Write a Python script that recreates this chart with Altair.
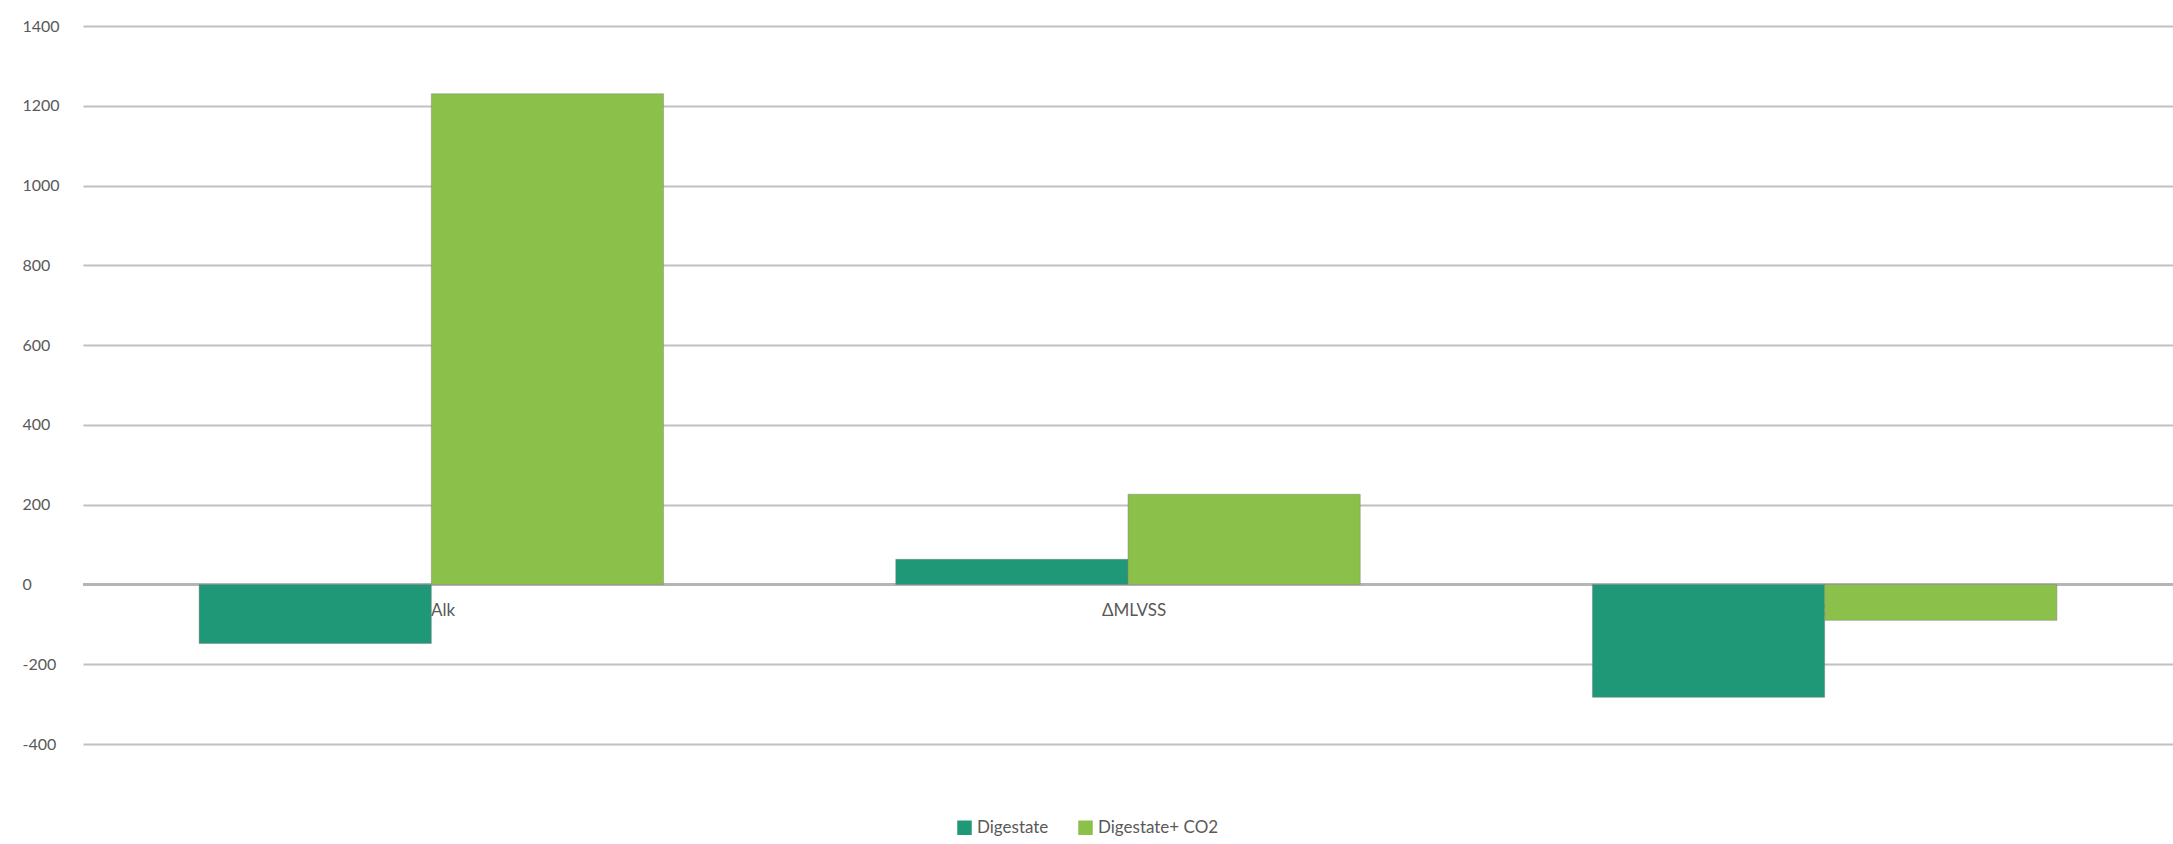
import altair as alt
import pandas as pd

categories = ["ΔAlk", "ΔMLVSS", "ΔsCOD"]
series_names = ["Digestate", "Digestate+ CO2"]
digestate = [-148, 63, -283]
digestate_co2 = [1230, 226, -90]
y_ticks = [-400, -200, 0, 200, 400, 600, 800, 1000, 1200, 1400]
colors = ["#1e9877", "#8bc04a"]

rows = []
for c, a, b in zip(categories, digestate, digestate_co2):
    rows.append({"cat": c, "series": series_names[0], "value": a})
    rows.append({"cat": c, "series": series_names[1], "value": b})
df = pd.DataFrame(rows)
cat_df = pd.DataFrame({"cat": categories})

FONT = "Lato"
TXT = "#595959"

xscale = alt.Scale(domain=categories, paddingInner=1/3, paddingOuter=1/6)

zero = alt.Chart(cat_df).mark_rule(color="#b5b5b5", strokeWidth=3).encode(
    y=alt.datum(0), x=alt.value(0), x2=alt.value(2090)
)

labels = alt.Chart(cat_df).mark_text(
    font=FONT, fontSize=17, color=TXT, dy=27, dx=6, baseline="middle"
).encode(
    x=alt.X("cat:N", scale=xscale, axis=None, sort=categories),
    y=alt.datum(0),
    text="cat:N",
)

bars = alt.Chart(df).mark_bar(stroke="#7f7f7f", strokeWidth=1, strokeOpacity=0.45).encode(
    x=alt.X("cat:N", scale=xscale, axis=None, sort=categories),
    xOffset=alt.XOffset("series:N", sort=series_names,
                        scale=alt.Scale(domain=series_names, paddingInner=0, paddingOuter=0)),
    y=alt.Y("value:Q",
            scale=alt.Scale(domain=[-400, 1400], nice=False, zero=False),
            axis=alt.Axis(values=y_ticks, title=None, domain=False, ticks=False, tickSize=0,
                          labelExpr="'' + datum.value",
                          labelAlign="left", labelPadding=61, labelFont=FONT,
                          labelFontSize=16, labelColor=TXT,
                          grid=True, gridColor="#c0c0c0", gridWidth=2)),
    color=alt.Color("series:N", sort=series_names,
                    scale=alt.Scale(domain=series_names, range=colors),
                    legend=alt.Legend(title=None, orient="none", legendX=873, legendY=793,
                                      direction="horizontal", symbolType="square",
                                      symbolSize=210, symbolStrokeWidth=0,
                                      labelFont=FONT, labelFontSize=17, labelColor=TXT,
                                      labelOffset=4, columnPadding=28)),
)

chart = alt.layer(zero, labels, bars).properties(
    width=2090, height=718,
    autosize=alt.AutoSizeParams(type="none"),
    padding={"left": 83, "top": 26, "right": 0, "bottom": 100},
    background="white",
).configure_view(stroke=None)

chart.save("out.html", embed_options={"renderer": "svg", "actions": False})
